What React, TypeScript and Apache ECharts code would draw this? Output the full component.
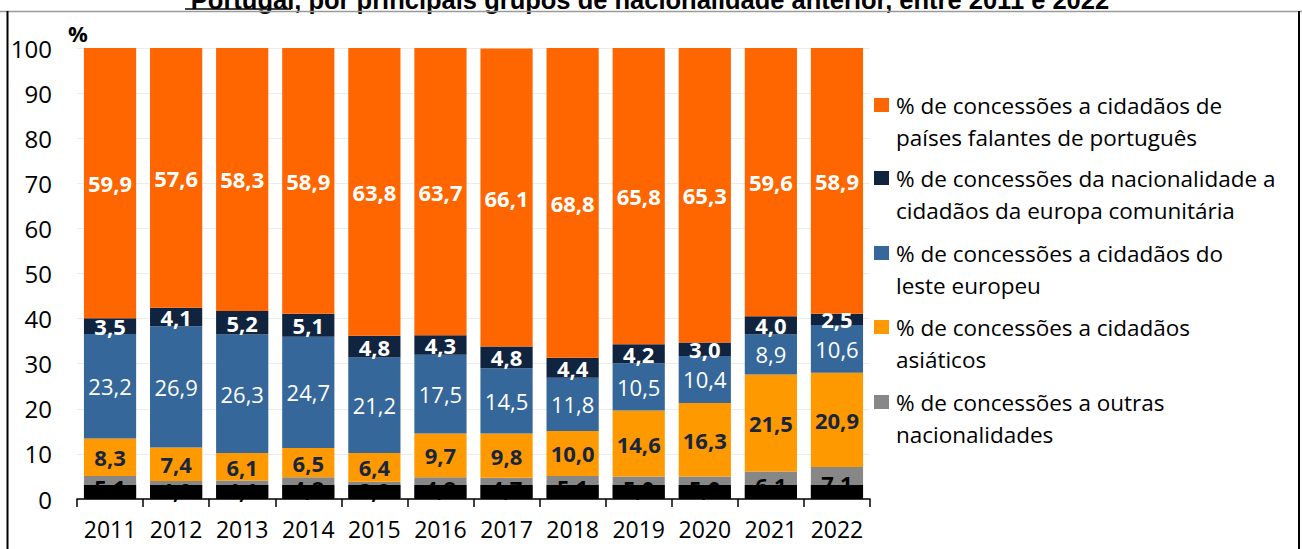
import React, { useEffect, useRef } from "react";
import * as echarts from "echarts";

const years = ["2011", "2012", "2013", "2014", "2015", "2016", "2017", "2018", "2019", "2020", "2021", "2022"];
const outras = [5.1, 4.0, 4.1, 4.8, 3.8, 4.8, 4.7, 5.1, 5.0, 5.0, 6.1, 7.1];
const asiaticos = [8.3, 7.4, 6.1, 6.5, 6.4, 9.7, 9.8, 10.0, 14.6, 16.3, 21.5, 20.9];
const lesteEuropeu = [23.2, 26.9, 26.3, 24.7, 21.2, 17.5, 14.5, 11.8, 10.5, 10.4, 8.9, 10.6];
const europaComunitaria = [3.5, 4.1, 5.2, 5.1, 4.8, 4.3, 4.8, 4.4, 4.2, 3.0, 4.0, 2.5];
const falantesPortugues = [59.9, 57.6, 58.3, 58.9, 63.8, 63.7, 66.1, 68.8, 65.8, 65.3, 59.6, 58.9];
// dark band covering the base of every bar in the source picture
const baseBand = [3.1, 3.1, 3.1, 3.1, 3.1, 3.1, 3.1, 3.1, 3.1, 3.1, 3.1, 3.1];

const yTicks = { min: 0, max: 100, interval: 10 };

const titleText = "Portugal, por principais grupos de nacionalidade anterior, entre 2011 e 2022";

const seriesDefs = [
  { name: "% de concessões a outras\nnacionalidades", data: outras, color: "#878787", labelColor: "#000000", bold: true },
  { name: "% de concessões a cidadãos\nasiáticos", data: asiaticos, color: "#FF9900", labelColor: "#17253F", bold: true },
  { name: "% de concessões a cidadãos do\nleste europeu", data: lesteEuropeu, color: "#35679A", labelColor: "#FFFFFF", bold: false },
  { name: "% de concessões da nacionalidade a\ncidadãos da europa comunitária", data: europaComunitaria, color: "#10243F", labelColor: "#FFFFFF", bold: true },
  { name: "% de concessões a cidadãos de\npaíses falantes de português", data: falantesPortugues, color: "#FF6600", labelColor: "#FFFFFF", bold: true },
];

const FONT = "'Open Sans', 'Noto Sans', sans-serif";
const fmt = (v: number) => v.toFixed(1).replace(".", ",");

export default function App() {
  const ref = useRef<HTMLDivElement>(null);
  useEffect(() => {
    if (!ref.current) return;
    const chart = echarts.init(ref.current, undefined, { renderer: "svg" });

    const series: any[] = seriesDefs.map((s) => ({
      type: "bar",
      name: s.name,
      stack: "total",
      data: s.data,
      z: 2,
      barCategoryGap: "21%",
      barGap: "-100%",
      itemStyle: { color: s.color },
      label: {
        show: true,
        position: "inside",
        formatter: (p: any) => fmt(p.value),
        color: s.labelColor,
        fontFamily: FONT,
        fontSize: 22,
        fontWeight: s.bold ? "bold" : "normal",
      },
    }));
    series.push({
      type: "bar",
      name: "base",
      stack: "band",
      data: baseBand,
      z: 5,
      barCategoryGap: "21%",
      barGap: "-100%",
      itemStyle: { color: "#000000" },
      label: { show: false },
    });

    const legendItems = seriesDefs.slice().reverse();
    const legendTops = [105, 178, 253, 327, 402];
    const legendGraphics: any[] = [];
    legendItems.forEach((s, i) => {
      legendGraphics.push({
        type: "rect",
        shape: { x: 874, y: legendTops[i] - 7, width: 15, height: 14 },
        style: { fill: s.color },
      });
      legendGraphics.push({
        type: "text",
        x: 896,
        y: legendTops[i] - 16,
        style: {
          text: s.name,
          fontFamily: FONT,
          fontSize: 22.5,
          lineHeight: 32,
          fill: "#000000",
          verticalAlign: "top",
        },
      });
    });

    chart.setOption({
      animation: false,
      backgroundColor: "#ffffff",
      grid: { left: 77, right: 432, top: 48, bottom: 50, containLabel: false },
      xAxis: {
        type: "category",
        data: years,
        boundaryGap: true,
        axisLine: { lineStyle: { color: "#000000", width: 1.5 } },
        axisTick: { show: true, alignWithLabel: false, interval: 0, length: 8, lineStyle: { color: "#000000", width: 1.5 } },
        axisLabel: { color: "#000000", fontFamily: FONT, fontSize: 23, margin: 18, interval: 0 },
      },
      yAxis: {
        type: "value",
        min: yTicks.min,
        max: yTicks.max,
        interval: yTicks.interval,
        axisLine: { show: false },
        axisTick: { show: false },
        axisLabel: { color: "#000000", fontFamily: FONT, fontSize: 24, margin: 25 },
        splitLine: { show: true, lineStyle: { color: "#ECECEC", width: 1 } },
      },
      series,
      graphic: [
        {
          type: "text",
          x: 650,
          y: 0,
          style: {
            text: titleText,
            fontFamily: "'Liberation Sans', Arial, sans-serif",
            fontWeight: "bold",
            fontSize: 25.5,
            fill: "#000000",
            align: "center",
            verticalAlign: "middle",
          },
        },
        { type: "line", shape: { x1: 185, y1: 9, x2: 291, y2: 9 }, style: { stroke: "#000000", lineWidth: 1.5 } },
        { type: "line", shape: { x1: 0, y1: 11.5, x2: 1302, y2: 11.5 }, style: { stroke: "#9a9a9a", lineWidth: 1.5 } },
        { type: "line", shape: { x1: 7.5, y1: 11, x2: 7.5, y2: 549 }, style: { stroke: "#000000", lineWidth: 2 } },
        { type: "line", shape: { x1: 1299, y1: 11, x2: 1299, y2: 549 }, style: { stroke: "#000000", lineWidth: 2 } },
        {
          type: "text",
          x: 68,
          y: 33,
          style: { text: "%", fontFamily: FONT, fontWeight: "bold", fontSize: 22, fill: "#000000", verticalAlign: "middle" },
        },
        ...legendGraphics,
      ],
    });
    return () => chart.dispose();
  }, []);
  return (
    <div
      ref={ref}
      style={{ position: "absolute", left: 0, top: 0, width: 1302, height: 549, background: "#ffffff" }}
    />
  );
}
